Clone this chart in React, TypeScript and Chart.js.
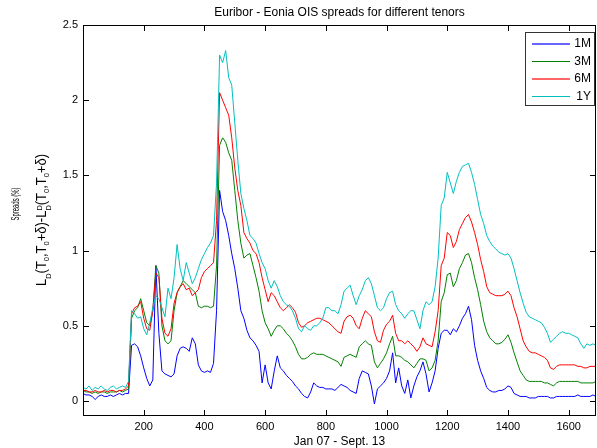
import React, { useEffect, useRef } from "react";
import { Chart, registerables } from "chart.js";

Chart.register(...registerables);

const FONT = "'Liberation Sans', Arial, Helvetica, sans-serif";

const titleText = "Euribor - Eonia OIS spreads for different tenors";
const xLabelText = "Jan 07 - Sept. 13";
const yLabelLine1 = "Spreads (%)";

const xTicks = [200, 400, 600, 800, 1000, 1200, 1400, 1600];
const yTicks = [0, 0.5, 1, 1.5, 2, 2.5];
const yTickLabels = ["0", "0.5", "1", "1.5", "2", "2.5"];

const seriesNames = ["1M", "3M", "6M", "1Y"];
const seriesColors = ["#0000FF", "#008000", "#FF0000", "#00BFBF"];

const days = [
  0, 10, 20, 30, 40, 50, 60, 70, 80, 90,
  100, 110, 120, 130, 140, 150, 160, 170, 180, 190,
  200, 210, 220, 230, 240, 250, 260, 270, 280, 290,
  300, 310, 320, 330, 340, 350, 360, 370, 380, 390,
  400, 410, 420, 430, 440, 450, 460, 470, 480, 490,
  500, 510, 520, 530, 540, 550, 560, 570, 580, 590,
  600, 610, 620, 630, 640, 650, 660, 670, 680, 690,
  700, 710, 720, 730, 740, 750, 760, 770, 780, 790,
  800, 810, 820, 830, 840, 850, 860, 870, 880, 890,
  900, 910, 920, 930, 940, 950, 960, 970, 980, 990,
  1000, 1010, 1020, 1030, 1040, 1050, 1060, 1070, 1080, 1090,
  1100, 1110, 1120, 1130, 1140, 1150, 1160, 1170, 1180, 1190,
  1200, 1210, 1220, 1230, 1240, 1250, 1260, 1270, 1280, 1290,
  1300, 1310, 1320, 1330, 1340, 1350, 1360, 1370, 1380, 1390,
  1400, 1410, 1420, 1430, 1440, 1450, 1460, 1470, 1480, 1490,
  1500, 1510, 1520, 1530, 1540, 1550, 1560, 1570, 1580, 1590,
  1600, 1610, 1620, 1630, 1640, 1650, 1660, 1670, 1680, 1690,
];

const spread1M = [
  0.05, 0.04, 0.04, 0.03, 0.01, 0.03, 0.04, 0.03, 0.03, 0.04,
  0.03, 0.04, 0.05, 0.04, 0.05, 0.05, 0.37, 0.38, 0.36, 0.3,
  0.22, 0.15, 0.1, 0.14, 0.9, 0.45, 0.2, 0.18, 0.17, 0.16,
  0.18, 0.3, 0.35, 0.36, 0.35, 0.33, 0.42, 0.38, 0.24, 0.2,
  0.19, 0.2, 0.19, 0.25, 0.6, 1.4, 1.26, 1.2, 1.1, 0.98,
  0.88, 0.75, 0.6, 0.55, 0.47, 0.42, 0.4, 0.37, 0.33, 0.12,
  0.24, 0.12, 0.08, 0.2, 0.3, 0.22, 0.2, 0.17, 0.15, 0.13,
  0.1, 0.08, 0.05, 0.03, 0.02, 0.06, 0.12, 0.1, 0.09, 0.09,
  0.08, 0.08, 0.08, 0.07, 0.09, 0.11, 0.1, 0.09, 0.07, 0.06,
  0.05, 0.15, 0.2, 0.19, 0.18, 0.1, -0.02, 0.08, 0.1, 0.12,
  0.15, 0.2, 0.32, 0.12, 0.22, 0.1, 0.05, 0.14, 0.02, 0.1,
  0.16, 0.2, 0.26, 0.18, 0.06, 0.12, 0.2, 0.35, 0.45, 0.47,
  0.47, 0.44, 0.48, 0.46, 0.5, 0.55, 0.58, 0.63, 0.54, 0.37,
  0.27, 0.2, 0.15, 0.09, 0.07, 0.06, 0.06, 0.07, 0.07, 0.08,
  0.1, 0.09, 0.05, 0.04, 0.03, 0.03, 0.03, 0.02, 0.02, 0.02,
  0.03, 0.03, 0.03, 0.03, 0.02, 0.02, 0.03, 0.03, 0.03, 0.03,
  0.03, 0.03, 0.03, 0.04, 0.03, 0.03, 0.03, 0.03, 0.04, 0.03,
];

const spread3M = [
  0.07, 0.06, 0.06, 0.05, 0.06, 0.05, 0.06, 0.06, 0.05, 0.06,
  0.06, 0.06, 0.07, 0.06, 0.07, 0.08, 0.55, 0.6, 0.62, 0.68,
  0.6, 0.52, 0.5, 0.6, 0.9, 0.85, 0.5, 0.4, 0.38, 0.4,
  0.6, 0.72, 0.76, 0.8, 0.78, 0.76, 0.74, 0.72, 0.63, 0.62,
  0.63, 0.63, 0.62, 0.63, 0.9, 1.7, 1.75, 1.72, 1.65, 1.6,
  1.4, 1.2, 1.05, 0.95, 0.97, 0.98, 0.9, 0.82, 0.73, 0.6,
  0.52, 0.48, 0.43, 0.47, 0.5, 0.5, 0.48, 0.45, 0.43, 0.4,
  0.36, 0.31, 0.28, 0.28, 0.29, 0.31, 0.32, 0.31, 0.31, 0.31,
  0.3, 0.29, 0.28, 0.27, 0.26, 0.23, 0.29, 0.3, 0.31, 0.3,
  0.29, 0.36, 0.38, 0.4, 0.38, 0.37, 0.26, 0.22, 0.25, 0.28,
  0.32, 0.38, 0.43, 0.3, 0.3, 0.29, 0.27, 0.26, 0.24, 0.22,
  0.25, 0.28, 0.28, 0.27, 0.2, 0.22, 0.27, 0.4, 0.66, 0.72,
  0.84, 0.85, 0.76, 0.8, 0.88, 0.92, 0.97, 0.98, 0.92, 0.82,
  0.74, 0.64, 0.53, 0.46, 0.42, 0.4, 0.38, 0.38, 0.39, 0.41,
  0.44, 0.39, 0.32, 0.26, 0.2, 0.17, 0.14, 0.13, 0.13, 0.13,
  0.13, 0.13, 0.12, 0.12, 0.11, 0.1, 0.12, 0.13, 0.13, 0.13,
  0.13, 0.13, 0.13, 0.13, 0.12, 0.12, 0.12, 0.12, 0.12, 0.13,
];

const spread6M = [
  0.07, 0.07, 0.06, 0.06, 0.07, 0.06, 0.06, 0.07, 0.06, 0.07,
  0.07, 0.06, 0.07, 0.07, 0.08, 0.1, 0.58, 0.62, 0.63, 0.66,
  0.55, 0.48, 0.47, 0.6, 0.85, 0.82, 0.55, 0.45, 0.43, 0.48,
  0.65, 0.72, 0.76, 0.78, 0.74, 0.75, 0.7, 0.72, 0.74, 0.82,
  0.86, 0.88, 0.9, 0.92, 1.2, 2.05, 2.0, 1.95, 1.9, 1.75,
  1.55, 1.4, 1.3, 1.12, 1.08, 1.05, 1.0, 0.98, 0.92, 0.82,
  0.74, 0.66, 0.72, 0.7, 0.66, 0.62, 0.6, 0.62, 0.64, 0.62,
  0.59, 0.52, 0.49, 0.5, 0.52, 0.53, 0.54, 0.55, 0.55, 0.54,
  0.53, 0.52, 0.5, 0.48, 0.46, 0.45, 0.53, 0.56, 0.57, 0.55,
  0.5, 0.48, 0.55, 0.6, 0.58, 0.56, 0.46, 0.4, 0.39, 0.47,
  0.51, 0.53, 0.57, 0.45, 0.4, 0.4, 0.38, 0.4, 0.38, 0.36,
  0.33, 0.36, 0.42, 0.38, 0.37, 0.36, 0.46, 0.6, 0.9, 0.95,
  1.12, 1.1, 1.02, 1.06, 1.14, 1.18, 1.22, 1.24, 1.19, 1.12,
  1.04, 0.94, 0.86, 0.76, 0.72, 0.71, 0.7, 0.7, 0.7, 0.71,
  0.73, 0.7, 0.62, 0.56, 0.48, 0.4, 0.36, 0.33, 0.32, 0.32,
  0.31, 0.3, 0.29, 0.27, 0.22, 0.21, 0.23, 0.24, 0.24, 0.24,
  0.24, 0.24, 0.24, 0.23, 0.23, 0.22, 0.22, 0.23, 0.23, 0.23,
];

const spread1Y = [
  0.09, 0.08, 0.1, 0.07, 0.09, 0.08, 0.1, 0.08, 0.07, 0.09,
  0.1, 0.08, 0.09, 0.1, 0.09, 0.13, 0.6, 0.58, 0.55, 0.56,
  0.48, 0.44, 0.52, 0.62, 0.7, 0.68, 0.62, 0.56, 0.75, 0.68,
  0.82, 1.04, 0.88, 0.8, 0.92, 0.85, 0.78, 0.82, 0.88, 0.94,
  0.98, 1.02, 1.05, 1.1, 1.45, 2.3, 2.25, 2.33, 2.15, 2.1,
  1.85, 1.6, 1.38, 1.28, 1.2, 1.1, 1.08, 1.05, 0.98, 0.92,
  0.88, 0.8, 0.75, 0.8, 0.76, 0.7, 0.66, 0.64, 0.63, 0.6,
  0.55, 0.48, 0.46, 0.5, 0.48, 0.47, 0.5, 0.5, 0.52, 0.55,
  0.62, 0.62, 0.6, 0.6, 0.58, 0.64, 0.73, 0.75, 0.77, 0.7,
  0.64, 0.7, 0.74, 0.8, 0.82, 0.78, 0.7, 0.62, 0.6, 0.62,
  0.68, 0.72, 0.73, 0.64, 0.6, 0.58, 0.55, 0.58, 0.6, 0.6,
  0.54, 0.48, 0.6, 0.66, 0.64, 0.66, 0.76, 0.95, 1.3, 1.35,
  1.52, 1.45, 1.38, 1.46, 1.52, 1.56, 1.57, 1.58, 1.52, 1.44,
  1.34, 1.24, 1.18, 1.1, 1.06, 1.03, 1.01, 0.99, 0.98, 0.97,
  0.98, 0.95, 0.88, 0.8, 0.72, 0.65, 0.59, 0.56, 0.55, 0.54,
  0.53, 0.52, 0.49, 0.45, 0.39, 0.41, 0.43, 0.45, 0.46, 0.45,
  0.45, 0.44, 0.43, 0.42, 0.38, 0.35, 0.38, 0.37, 0.38, 0.37,
];

const seriesValues = [spread1M, spread3M, spread6M, spread1Y];

type Part = { t: string; size: number; dy: number; stack?: boolean };

const yLabelParts: Part[] = [
  { t: "L", size: 14, dy: 0 },
  { t: "D", size: 8, dy: 5 },
  { t: "(T", size: 14, dy: 0 },
  { t: "0", size: 8, dy: 3 },
  { t: ",T", size: 14, dy: 0 },
  { t: "0", size: 8, dy: 3 },
  { t: "+\u03B4)-L", size: 14, dy: 0 },
  { t: "D", size: 8, dy: -4, stack: true },
  { t: "D", size: 8, dy: 5 },
  { t: "(T", size: 14, dy: 0 },
  { t: "0", size: 8, dy: 3 },
  { t: ",T", size: 14, dy: 0 },
  { t: "0", size: 8, dy: 3 },
  { t: "+\u03B4)", size: 14, dy: 0 },
];

function drawYLabel(ctx: CanvasRenderingContext2D) {
  ctx.save();
  ctx.fillStyle = "#000";
  ctx.font = `11px ${FONT}`;
  const w1 = ctx.measureText(yLabelLine1).width;
  ctx.translate(18.5, 204);
  ctx.rotate(-Math.PI / 2);
  ctx.scale(33 / w1, 1);
  ctx.textAlign = "center";
  ctx.textBaseline = "alphabetic";
  ctx.fillText(yLabelLine1, 0, 0);
  ctx.restore();

  ctx.save();
  ctx.fillStyle = "#000";
  const widths = yLabelParts.map((p) => {
    ctx.font = `${p.size}px ${FONT}`;
    return ctx.measureText(p.t).width;
  });
  let total = 0;
  yLabelParts.forEach((p, i) => {
    if (!p.stack) total += widths[i];
  });
  ctx.translate(45.5, 220);
  ctx.rotate(-Math.PI / 2);
  ctx.scale(132 / total, 1);
  ctx.textAlign = "left";
  ctx.textBaseline = "alphabetic";
  let x = -total / 2;
  yLabelParts.forEach((p, i) => {
    ctx.font = `${p.size}px ${FONT}`;
    ctx.fillText(p.t, x, p.dy);
    if (!p.stack) x += widths[i];
  });
  ctx.restore();
}

const matlabPlugin = {
  id: "matlabFrame",
  afterDraw(chart: any) {
    const { ctx, chartArea: a, scales } = chart;
    ctx.save();
    ctx.strokeStyle = "#000";
    ctx.lineWidth = 1;
    ctx.strokeRect(a.left + 0.5, a.top + 0.5, a.right - a.left - 1, a.bottom - a.top - 1);
    const tl = 5;
    ctx.beginPath();
    xTicks.forEach((v) => {
      const px = Math.round(scales.x.getPixelForValue(v)) + 0.5;
      ctx.moveTo(px, a.bottom - 1);
      ctx.lineTo(px, a.bottom - 1 - tl);
      ctx.moveTo(px, a.top + 1);
      ctx.lineTo(px, a.top + 1 + tl);
    });
    yTicks.forEach((v) => {
      const py = Math.round(scales.y.getPixelForValue(v)) + 0.5;
      ctx.moveTo(a.left + 1, py);
      ctx.lineTo(a.left + 1 + tl, py);
      ctx.moveTo(a.right - 1, py);
      ctx.lineTo(a.right - 1 - tl, py);
    });
    ctx.stroke();

    const lx = 525, ly = 32, lw = 69, lh = 73;
    ctx.fillStyle = "#fff";
    ctx.fillRect(lx, ly, lw, lh);
    ctx.strokeStyle = "#333";
    ctx.lineWidth = 1;
    ctx.strokeRect(lx + 0.5, ly + 0.5, lw, lh);
    ctx.font = `12px ${FONT}`;
    ctx.textAlign = "right";
    ctx.textBaseline = "middle";
    seriesNames.forEach((name, i) => {
      const ry = Math.round(ly + 11 + i * 17.5);
      const soft = i === 0 || i === 2;
      ctx.save();
      ctx.strokeStyle = seriesColors[i];
      ctx.globalAlpha = soft ? 0.6 : 1;
      ctx.lineWidth = soft ? 2 : 1;
      ctx.beginPath();
      ctx.moveTo(532, soft ? ry + 1 : ry + 0.5);
      ctx.lineTo(570, soft ? ry + 1 : ry + 0.5);
      ctx.stroke();
      ctx.restore();
      ctx.fillStyle = "#000";
      ctx.fillText(name, 591, ry + 0.5);
    });

    const cx = (a.left + a.right) / 2;
    ctx.fillStyle = "#000";
    ctx.textAlign = "center";
    ctx.textBaseline = "middle";
    ctx.font = `12px ${FONT}`;
    ctx.fillText(titleText, cx, 12.5);
    ctx.fillText(xLabelText, cx, 442);

    drawYLabel(ctx);
    ctx.restore();
  },
};

export default function App() {
  const canvasRef = useRef<HTMLCanvasElement>(null);

  useEffect(() => {
    if (!canvasRef.current) return;
    const datasets = seriesNames.map((name, i) => ({
      label: name,
      data: days.map((d, k) => ({ x: d, y: seriesValues[i][k] })),
      borderColor: seriesColors[i],
      backgroundColor: seriesColors[i],
      borderWidth: 1,
      pointRadius: 0,
      pointHoverRadius: 0,
      fill: false,
      tension: 0,
      order: seriesNames.length - i,
    }));

    const chart = new Chart(canvasRef.current, {
      type: "line",
      data: { datasets },
      options: {
        responsive: false,
        animation: false,
        devicePixelRatio: 1,
        events: [],
        layout: { padding: { top: 25, right: 1, left: 0, bottom: 0 } },
        plugins: {
          legend: { display: false },
          tooltip: { enabled: false },
          title: { display: false },
        },
        scales: {
          x: {
            type: "linear",
            min: 0,
            max: 1690,
            grid: { display: false, drawTicks: false },
            border: { display: false },
            afterBuildTicks: (s: any) => {
              s.ticks = xTicks.map((v) => ({ value: v }));
            },
            afterFit: (s: any) => {
              s.height = 32;
            },
            ticks: {
              padding: 4,
              color: "#000",
              font: { family: FONT, size: 11 },
              maxRotation: 0,
              autoSkip: false,
              callback: (v: any) => String(v),
            },
          },
          y: {
            type: "linear",
            min: -0.1,
            max: 2.5,
            grid: { display: false, drawTicks: false },
            border: { display: false },
            afterBuildTicks: (s: any) => {
              s.ticks = yTicks.map((v) => ({ value: v }));
            },
            afterFit: (s: any) => {
              s.width = 83;
            },
            ticks: {
              padding: 5,
              color: "#000",
              font: { family: FONT, size: 11 },
              autoSkip: false,
              callback: (v: any) => {
                const idx = yTicks.findIndex((t) => Math.abs(t - Number(v)) < 1e-9);
                return idx >= 0 ? yTickLabels[idx] : "";
              },
            },
          },
        },
      },
      plugins: [matlabPlugin],
    } as any);

    return () => chart.destroy();
  }, []);

  return (
    <div style={{ position: "absolute", left: 0, top: 0, width: 597, height: 448, background: "#fff" }}>
      <canvas ref={canvasRef} width={597} height={448} style={{ display: "block", width: 597, height: 448 }} />
    </div>
  );
}
